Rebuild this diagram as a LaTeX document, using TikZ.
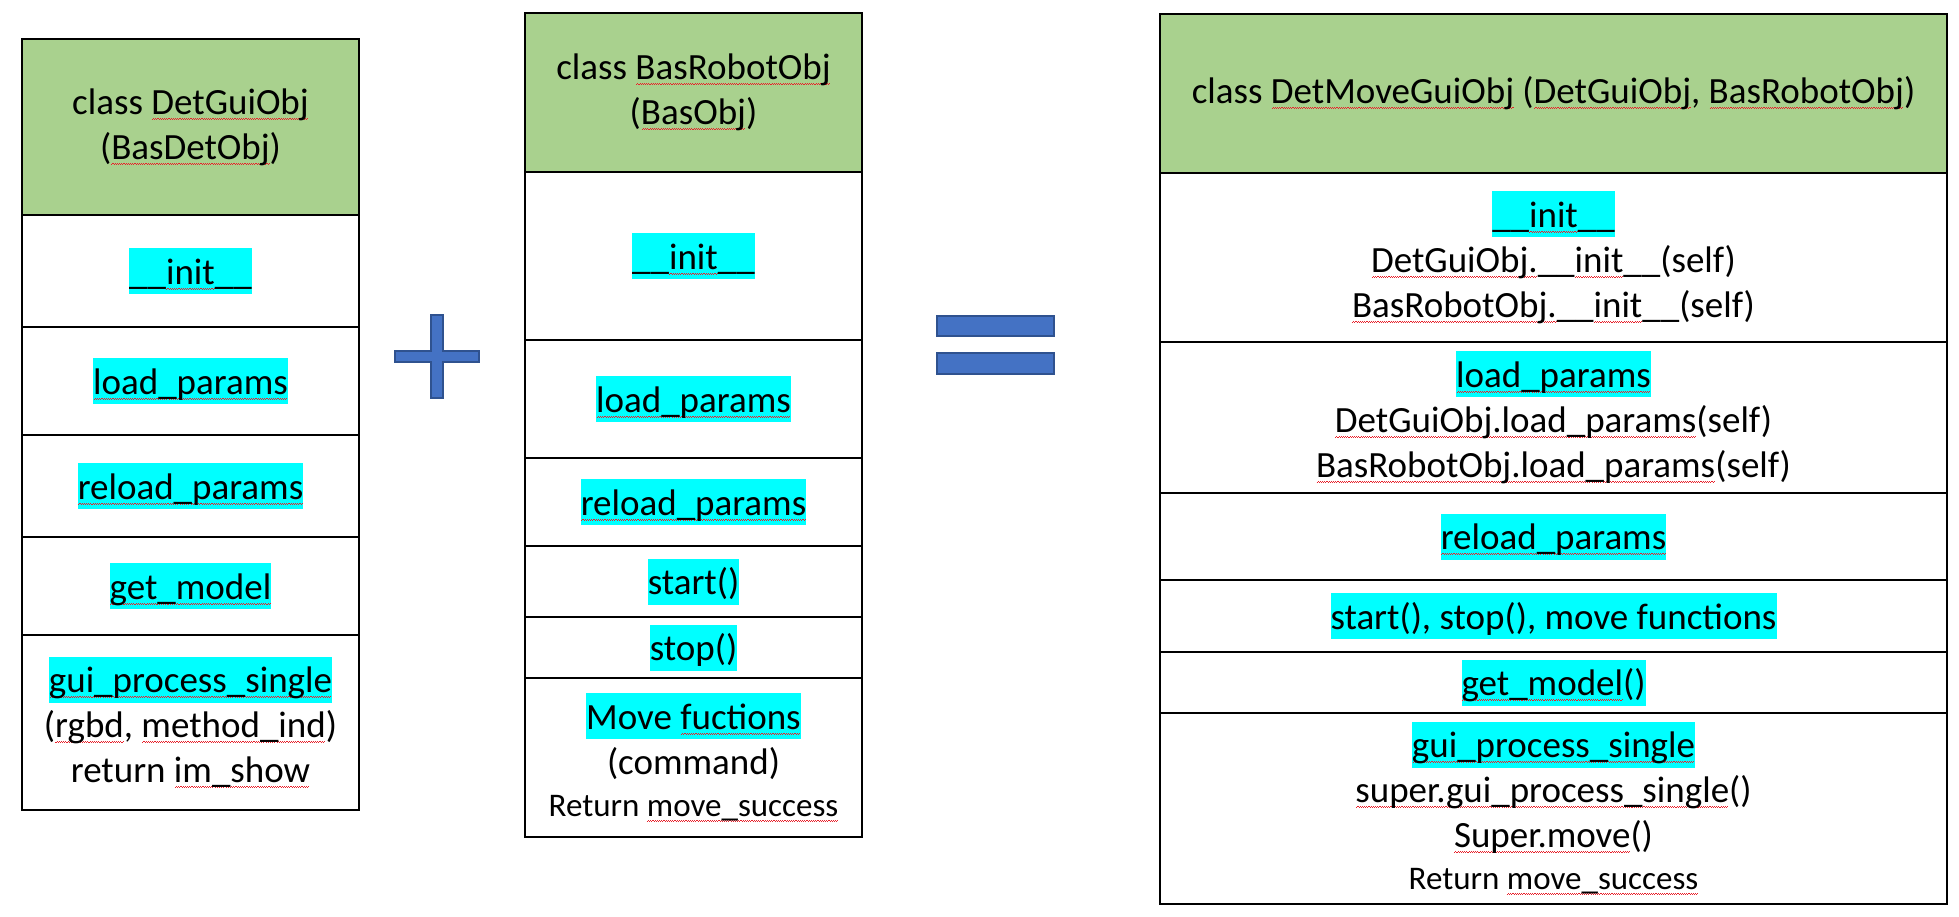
\documentclass[tikz,border=0pt]{standalone}
\usepackage{fontspec}
\setmainfont{Carlito}
\usepackage{xcolor}
\definecolor{Head_Green}{HTML}{A9D18E}
\definecolor{Mark_Cyan}{HTML}{00FFFF}
\definecolor{Sign_Blue}{HTML}{4472C4}
\definecolor{Sign_Edge}{HTML}{2F528F}
\definecolor{Spell_Red}{HTML}{E8202A}
\setlength{\fboxsep}{0pt}
\newcommand{\marked}[1]{\colorbox{Mark_Cyan}{\rule[-5pt]{0pt}{23pt}#1}}
\newcommand{\smalltext}[1]{{\fontsize{16.5}{20}\selectfont #1}}
\newsavebox{\wavebox}
\newcommand{\spellwave}[1]{\sbox{\wavebox}{#1}%
    \rlap{\color{Spell_Red}\hbox to \wd\wavebox{\cleaders\hbox{\rule[-2.7pt]{0.55pt}{0.45pt}\rule[-2.2pt]{0.55pt}{0.45pt}}\hfil}}%
    \usebox{\wavebox}}

\begin{document}
\begin{tikzpicture}[x=0.5pt, y=-0.5pt,
    cell/.style={draw, line width=1pt, inner sep=0pt, align=center,
        font=\fontsize{18.5}{22.5}\selectfont},
    head/.style={cell, fill=Head_Green},
    sign/.style={draw=Sign_Edge, line width=0.6pt, fill=Sign_Blue}]
    \useasboundingbox (0,0) rectangle (1959,916);

    % Column 1: DetGuiObj
    \node[head, minimum width=168.5pt, minimum height=88pt] (gui-head) at (190.5,127) {class \spellwave{DetGuiObj}\\(\spellwave{BasDetObj})};
    \node[cell, minimum width=168.5pt, minimum height=56pt] (gui-init) at (190.5,271) {\marked{\_\_\spellwave{init}\_\_}};
    \node[cell, minimum width=168.5pt, minimum height=54pt] (gui-load) at (190.5,381) {\marked{\spellwave{load\_params}}};
    \node[cell, minimum width=168.5pt, minimum height=51pt] (gui-reload) at (190.5,486) {\marked{\spellwave{reload\_params}}};
    \node[cell, minimum width=168.5pt, minimum height=49pt] (gui-model) at (190.5,586) {\marked{\spellwave{get\_model}}};
    \node[cell, minimum width=168.5pt, minimum height=87.5pt] (gui-proc) at (190.5,722.5) {\marked{\spellwave{gui\_process\_single}}\\(\spellwave{rgbd}, \spellwave{method\_ind})\\return \spellwave{im\_show}};

    % Plus sign
    \draw[sign] (431,315) -- (443,315) -- (443,351) -- (479,351) -- (479,362) -- (443,362)
        -- (443,398) -- (431,398) -- (431,362) -- (395,362) -- (395,351) -- (431,351) -- cycle;

    % Column 2: BasRobotObj
    \node[head, minimum width=168.5pt, minimum height=79.5pt] (rob-head) at (693.5,92.5) {class \spellwave{BasRobotObj}\\(\spellwave{BasObj})};
    \node[cell, minimum width=168.5pt, minimum height=84pt] (rob-init) at (693.5,256) {\marked{\_\_\spellwave{init}\_\_}};
    \node[cell, minimum width=168.5pt, minimum height=59pt] (rob-load) at (693.5,399) {\marked{\spellwave{load\_params}}};
    \node[cell, minimum width=168.5pt, minimum height=44pt] (rob-reload) at (693.5,502) {\marked{\spellwave{reload\_params}}};
    \node[cell, minimum width=168.5pt, minimum height=35.5pt] (rob-start) at (693.5,581.5) {\marked{start()}};
    \node[cell, minimum width=168.5pt, minimum height=30.5pt] (rob-stop) at (693.5,647.5) {\marked{stop()}};
    \node[cell, minimum width=168.5pt, minimum height=79.5pt] (rob-move) at (693.5,757.5) {\marked{Move \spellwave{fuctions}}\\(command)\\[-1.5pt]\smalltext{Return \spellwave{move\_success}}};

    % Equals sign
    \draw[sign] (937,316) rectangle (1054,336);
    \draw[sign] (937,353) rectangle (1054,374);

    % Column 3: DetMoveGuiObj
    \node[head, minimum width=393.5pt, minimum height=79.5pt] (mov-head) at (1553.5,93.5) {class \spellwave{DetMoveGuiObj} (\spellwave{DetGuiObj}, \spellwave{BasRobotObj})};
    \node[cell, minimum width=393.5pt, minimum height=84.5pt] (mov-init) at (1553.5,257.5) {\marked{\_\_\spellwave{init}\_\_}\\\spellwave{DetGuiObj.}\_\_\spellwave{init}\_\_(self)\\\spellwave{BasRobotObj.}\_\_\spellwave{init}\_\_(self)};
    \node[cell, minimum width=393.5pt, minimum height=75.5pt] (mov-load) at (1553.5,417.5) {\marked{\spellwave{load\_params}}\\\spellwave{DetGuiObj.load\_params}(self)\\\spellwave{BasRobotObj.load\_params}(self)};
    \node[cell, minimum width=393.5pt, minimum height=43.5pt] (mov-reload) at (1553.5,536.5) {\marked{\spellwave{reload\_params}}};
    \node[cell, minimum width=393.5pt, minimum height=36pt] (mov-start) at (1553.5,616) {\marked{start(), stop(), move functions}};
    \node[cell, minimum width=393.5pt, minimum height=30.5pt] (mov-model) at (1553.5,682.5) {\marked{\spellwave{get\_model}()}};
    \node[cell, minimum width=393.5pt, minimum height=95.5pt] (mov-proc) at (1553.5,808.5) {\marked{\spellwave{gui\_process\_single}}\\\spellwave{super.gui\_process\_single}()\\\spellwave{Super.move}()\\[-1.5pt]\smalltext{Return \spellwave{move\_success}}};
\end{tikzpicture}
\end{document}
